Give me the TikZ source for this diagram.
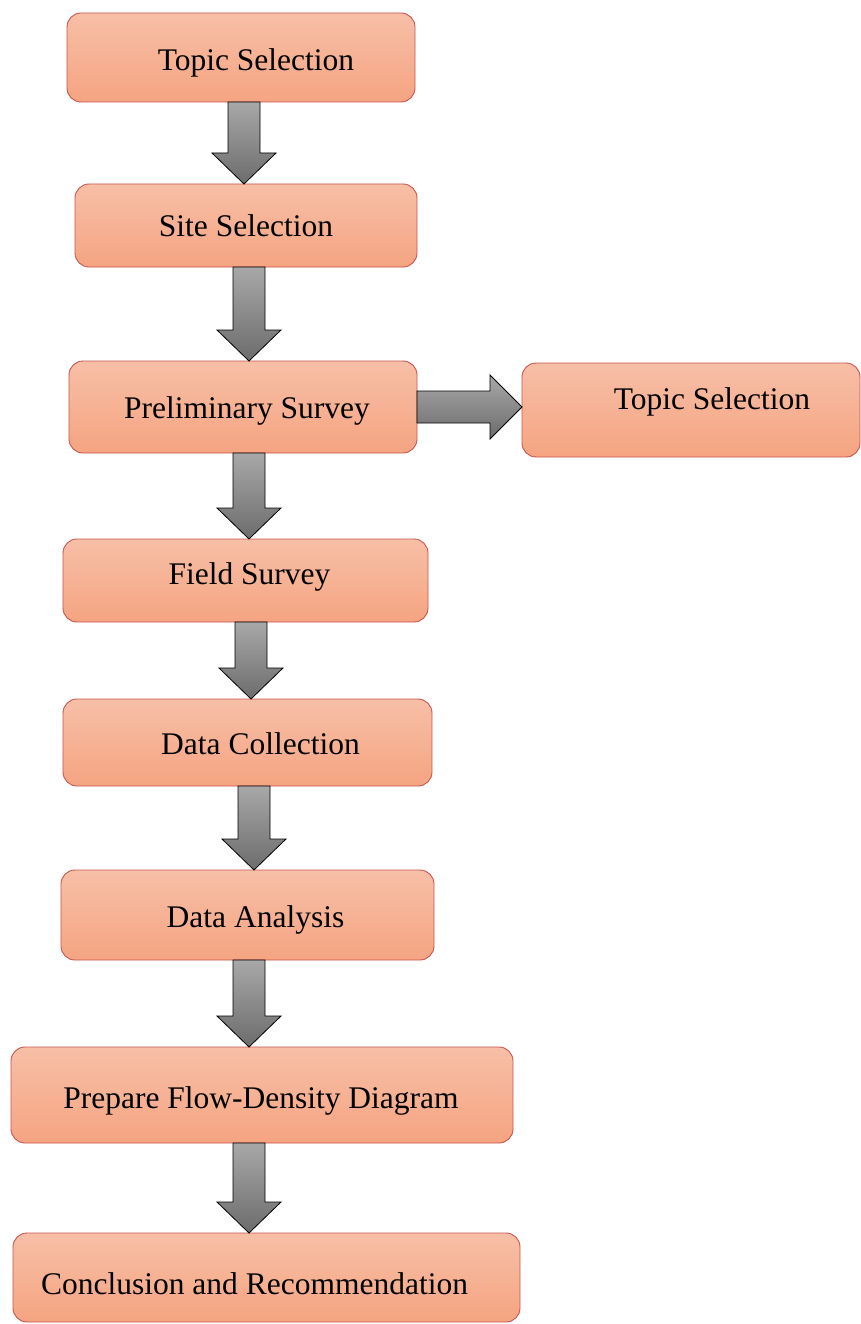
\documentclass[tikz,border=0pt]{standalone}
\usepackage{fontspec}
\setmainfont{Liberation Serif}
\usetikzlibrary{calc}
\definecolor{boxtop}{RGB}{247,191,167}
\definecolor{boxbot}{RGB}{245,164,129}
\definecolor{boxline}{RGB}{200,84,80}
\definecolor{arrtop}{RGB}{168,168,168}
\definecolor{arrbot}{RGB}{108,108,108}
\tikzset{
  stepbox/.style={draw=boxline, line width=0.9pt, rounded corners=14pt,
    top color=boxtop, bottom color=boxbot, inner sep=0pt, outer sep=0pt,
    font=\fontsize{31.5}{36}\selectfont},
  blockarrow/.style={draw=black, line width=0.8pt, top color=arrtop,
    bottom color=arrbot, line join=miter},
}
% block arrow downwards, box #1 to box #2, at x = #3
\newcommand{\flowarrow}[3]{%
  \draw[blockarrow] let \p1=(#1.south), \p2=(#2.north) in
    (#3pt-16pt,\y1) -- (#3pt+16pt,\y1) -- (#3pt+16pt,\y2+31pt) -- (#3pt+32pt,\y2+31pt)
    -- (#3pt,\y2) -- (#3pt-32pt,\y2+31pt) -- (#3pt-16pt,\y2+31pt) -- cycle;
}
\begin{document}
\begin{tikzpicture}[x=1pt,y=-1pt]
    \useasboundingbox (0,0) rectangle (861,1324);

    % Boxes (text moved by dx/dy inside the box)
    \foreach \name/\cx/\cy/\w/\h/\dx/\dy/\txt in {
        topic/241/57.5/348/89/15/5/Topic Selection,
        site/246/225.5/342/83/0/0/Site Selection,
        prelim/243/407/348/92/4/4/Preliminary Survey,
        side/691/410/338/94/21/-8/Topic Selection,
        field/245.5/580.5/365/83/4/-4/Field Survey,
        collect/247.5/742.5/369/87/13/1/Data Collection,
        analysis/247.5/915/373/90/8/5/Data Analysis,
        prepare/262/1095/502/96/-1/6/Prepare Flow-Density Diagram,
        concl/266.5/1277.5/507/89/-8/6/Conclusion and Recommendation
        } {
        \node[stepbox, minimum width=\w pt, minimum height=\h pt] (\name) at (\cx,\cy)
            {\raisebox{-\dy pt}[\height][\depth]{\hspace*{\dx pt}\txt\hspace*{-\dx pt}}};
    }

    % Arrows down
    \foreach \a/\b/\ax in {topic/site/244, site/prelim/249, prelim/field/249,
        field/collect/251, collect/analysis/254, analysis/prepare/249, prepare/concl/249} {
        \flowarrow{\a}{\b}{\ax}
    }

    % Arrow to the right
    \draw[blockarrow] let \p1=(prelim.east), \p2=(side.west) in
        (\x1,\y1+16pt) -- (\x2-32pt,\y1+16pt) -- (\x2-32pt,\y1+32pt) -- (\x2,\y1)
        -- (\x2-32pt,\y1-32pt) -- (\x2-32pt,\y1-16pt) -- (\x1,\y1-16pt) -- cycle;
\end{tikzpicture}
\end{document}
